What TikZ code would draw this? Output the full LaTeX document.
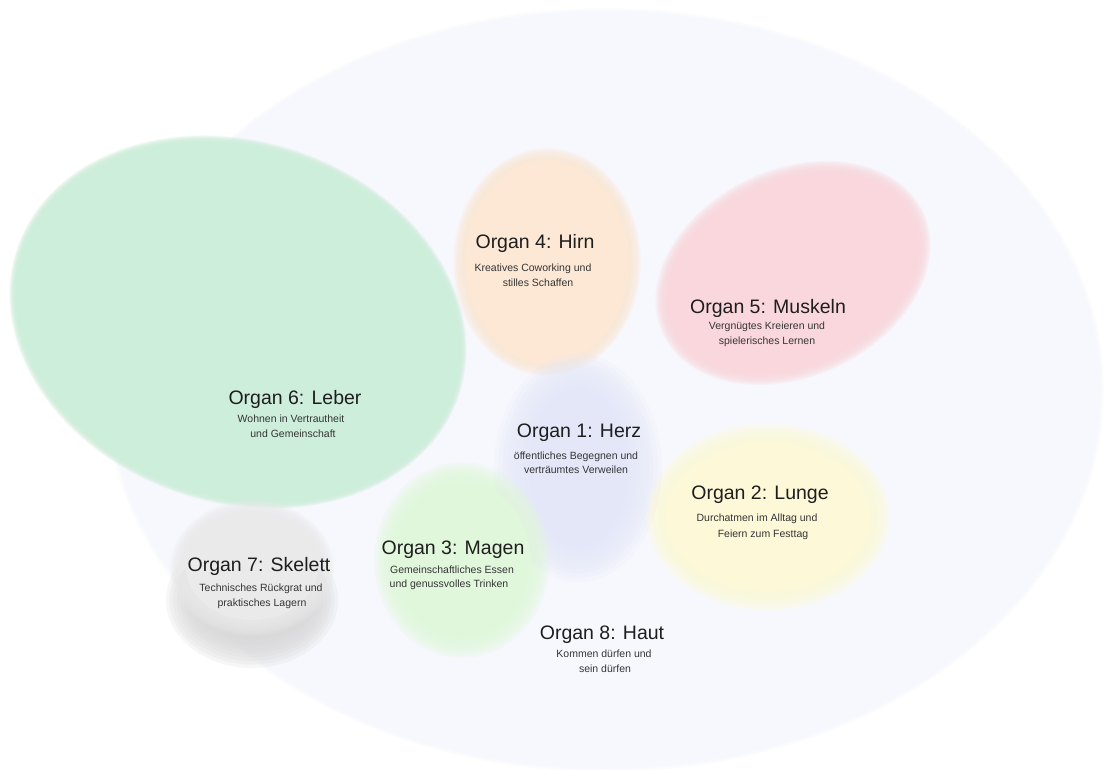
\documentclass[tikz,border=0pt]{standalone}
\usepackage{fontspec}
\setmainfont{Liberation Sans}
\definecolor{hautc}{HTML}{F7F8FD}
\definecolor{leberc}{HTML}{CDEEDA}
\definecolor{hirnc}{HTML}{FCE8D5}
\definecolor{muskc}{HTML}{FAD7DC}
\definecolor{herzc}{HTML}{E3E7F8}
\definecolor{lungec}{HTML}{FDF8D7}
\definecolor{magenc}{HTML}{E1F7DC}
\definecolor{skelc}{HTML}{EAEAEA}
\definecolor{shadc}{HTML}{D6D6D6}
\definecolor{txtc}{HTML}{1E1E1E}
\newcommand\softell[7]{%
  \foreach \dd in {1,0.8,0.6,0.4,0.2,0,-0.2,-0.4,-0.6,-0.8}{%
    \fill[#6, fill opacity=0.2, shift={(#1,#2)}, rotate=#5] (0,0) ellipse [x radius={#3+\dd*#7}, y radius={#4+\dd*#7}];
  }%
  \fill[#6, shift={(#1,#2)}, rotate=#5] (0,0) ellipse [x radius={#3-#7}, y radius={#4-#7}];
}
\tikzset{
  ttl/.style={anchor=base, inner sep=0pt, text=txtc, font=\fontsize{19.5}{22}\selectfont},
  sub/.style={anchor=base, inner sep=0pt, text=txtc!90, font=\fontsize{10.5}{13}\selectfont}
}
\begin{document}
\begin{tikzpicture}[x=1pt,y=-1pt]
\useasboundingbox (0,0) rectangle (1105,769);
\fill[white] (0,0) rectangle (1105,769);
% Organ 8: Haut (large background ellipse)
\softell{605}{390}{495}{378}{0}{hautc}{4}
% Organ 6: Leber
\softell{238}{322}{230}{178}{-18}{leberc}{3}
% Organ 4: Hirn
\softell{547}{262}{88}{108}{0}{hirnc}{6}
% Organ 5: Muskeln
\softell{793}{273}{138}{98}{25}{muskc}{6}
% Organ 1: Herz
\softell{578}{468}{62}{92}{0}{herzc}{22}
% Organ 2: Lunge
\softell{768}{517}{112}{84}{0}{lungec}{10}
% Organ 3: Magen
\softell{462}{560}{78}{88}{0}{magenc}{10}
% Organ 7: Skelett (shadow + body)
\softell{252}{600}{68}{50}{0}{shadc}{18}
\softell{252}{568}{74}{60}{0}{skelc}{8}

% Texts
\node[ttl] (t4) at (535,248) {Organ 4: Hirn};
\node[sub] (s4a) at (533,271.5) {Kreatives Coworking und};
\node[sub] (s4b) at (538,286) {stilles Schaffen};

\node[ttl] (t5) at (768,313) {Organ 5: Muskeln};
\node[sub] (s5a) at (767,329) {Vergnügtes Kreieren und};
\node[sub] (s5b) at (767,344) {spielerisches Lernen};

\node[ttl] (t6) at (295,404) {Organ 6: Leber};
\node[sub] (s6a) at (291,422) {Wohnen in Vertrautheit};
\node[sub] (s6b) at (293,437) {und Gemeinschaft};

\node[ttl] (t1) at (579,437) {Organ 1: Herz};
\node[sub] (s1a) at (576,459) {öffentliches Begegnen und};
\node[sub] (s1b) at (576,473) {verträumtes Verweilen};

\node[ttl] (t2) at (760,499) {Organ 2: Lunge};
\node[sub] (s2a) at (757,521) {Durchatmen im Alltag und};
\node[sub] (s2b) at (763,537) {Feiern zum Festtag};

\node[ttl] (t3) at (453,554) {Organ 3: Magen};
\node[sub] (s3a) at (452,573) {Gemeinschaftliches Essen};
\node[sub] (s3b) at (449,587) {und genussvolles Trinken};

\node[ttl] (t7) at (259,571) {Organ 7: Skelett};
\node[sub] (s7a) at (261,591) {Technisches Rückgrat und};
\node[sub] (s7b) at (262,606) {praktisches Lagern};

\node[ttl] (t8) at (602,639) {Organ 8: Haut};
\node[sub] (s8a) at (604,657) {Kommen dürfen und};
\node[sub] (s8b) at (605,672) {sein dürfen};
\end{tikzpicture}
\end{document}
